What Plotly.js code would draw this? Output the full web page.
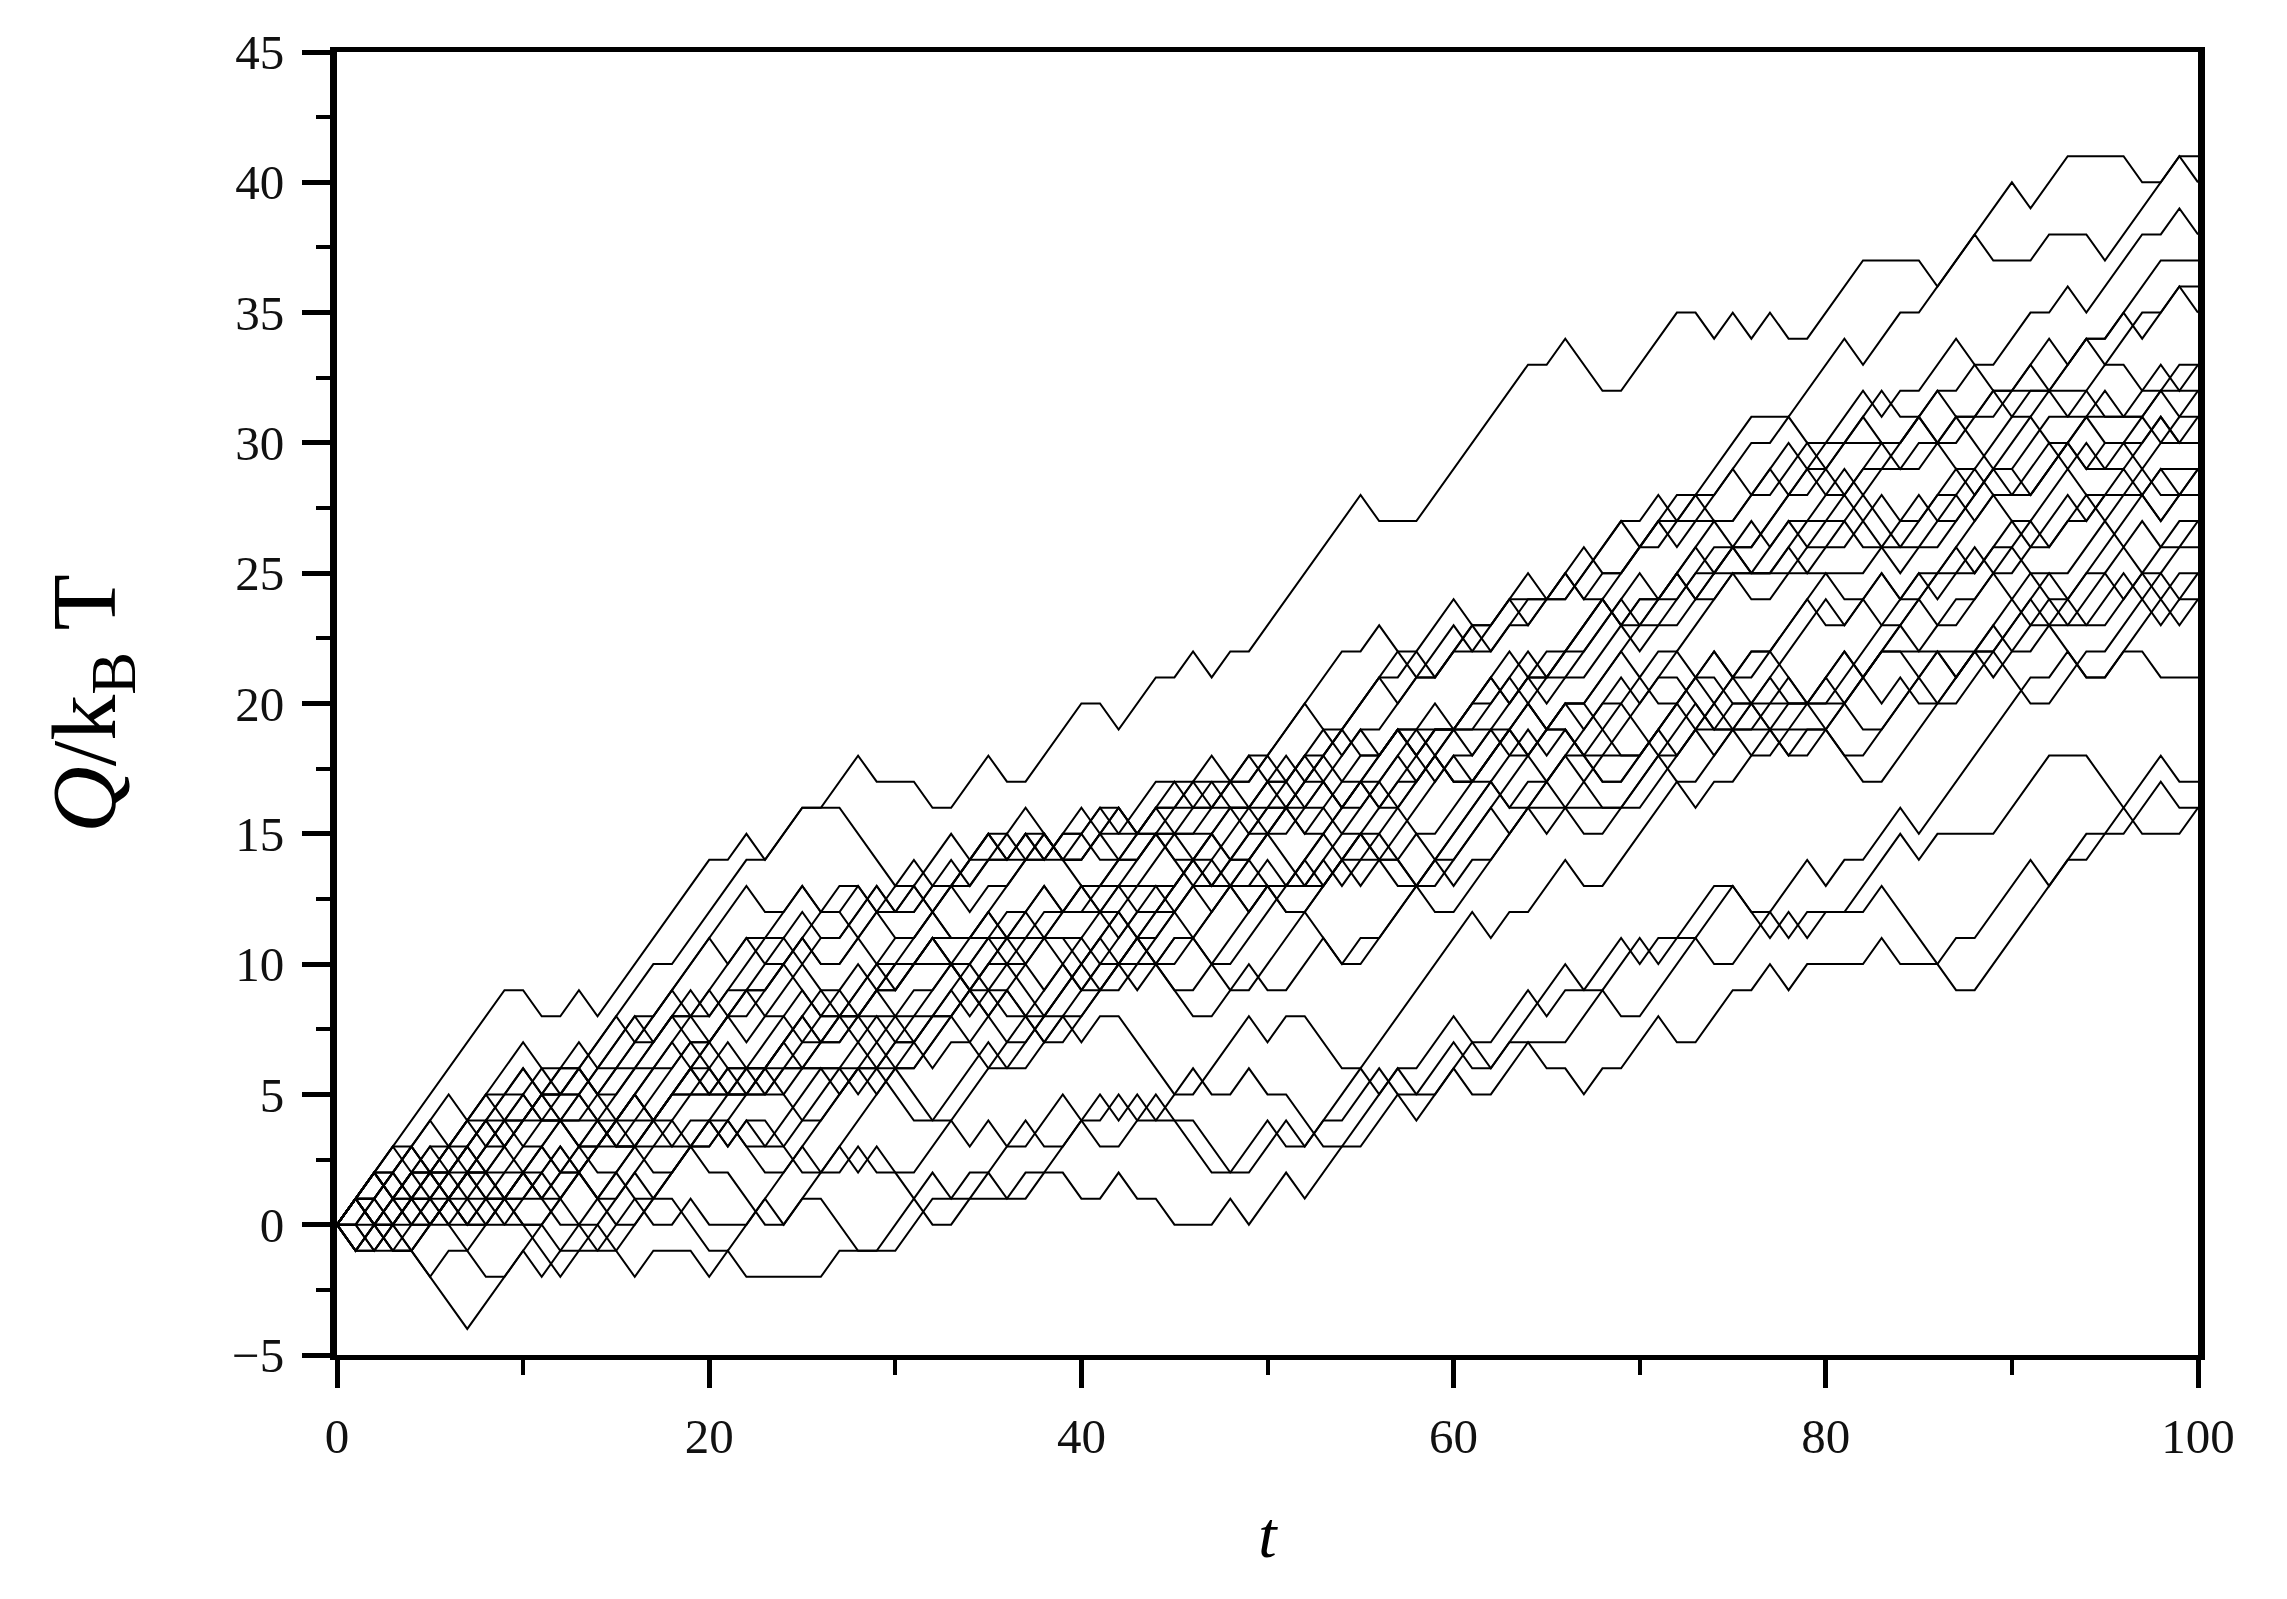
<!DOCTYPE html>
<html><head><meta charset="utf-8">
<script src="https://cdn.plot.ly/plotly-3.0.1.min.js"></script>
<style>html,body{margin:0;padding:0;background:#fff}#chart{width:2287px;height:1599px}</style>
</head><body><div id="chart"></div>
<script>
// Heat trajectories Q/kBT vs t, vertices [t, Q] (piecewise-linear lattice walks)
const walk01 = [[0,0],[3,3],[4,2],[5,3],[6,3],[8,5],[9,4],[10,4],[12,6],[13,6],[17,10],[18,10],[22,14],[23,14],[25,16],[26,16],[28,18],[29,17],[31,17],[32,16],[33,16],[35,18],[36,17],[37,17],[40,20],[41,20],[42,19],[44,21],[45,21],[46,22],[47,21],[48,22],[49,22],[55,28],[56,27],[58,27],[64,33],[65,33],[66,34],[68,32],[69,32],[72,35],[73,35],[74,34],[75,35],[76,34],[77,35],[78,34],[79,34],[82,37],[85,37],[86,36],[90,40],[91,39],[93,41],[96,41],[97,40],[98,40],[99,41],[100,40]];
const walk02 = [[0,0],[1,1],[2,0],[4,2],[5,2],[7,4],[8,3],[9,3],[11,5],[12,4],[14,4],[16,6],[17,6],[19,8],[20,7],[22,9],[23,9],[25,11],[26,10],[27,10],[29,12],[30,12],[31,13],[33,11],[34,11],[37,14],[38,14],[40,16],[41,15],[42,15],[44,17],[46,17],[47,18],[48,17],[49,18],[50,18],[54,22],[55,22],[56,23],[57,22],[58,22],[60,24],[61,23],[62,23],[63,24],[65,24],[66,25],[67,24],[68,24],[72,28],[73,28],[74,29],[76,31],[78,31],[81,34],[82,33],[84,35],[85,35],[88,38],[89,37],[91,37],[92,38],[94,38],[95,37],[96,38],[99,41],[100,41]];
const walk03 = [[0,0],[1,-1],[2,0],[3,0],[6,3],[7,2],[8,2],[11,5],[12,5],[13,6],[14,5],[15,6],[16,6],[19,9],[20,8],[21,9],[22,9],[24,11],[25,10],[26,11],[27,11],[29,13],[30,12],[31,12],[33,14],[34,13],[35,14],[36,14],[37,15],[38,14],[39,15],[40,15],[41,16],[42,16],[43,15],[44,15],[46,17],[47,16],[48,17],[49,17],[52,20],[53,19],[54,19],[56,21],[57,21],[58,22],[59,21],[60,22],[61,22],[64,25],[65,24],[66,24],[69,27],[70,27],[71,28],[72,27],[73,27],[76,30],[77,30],[78,31],[79,30],[80,30],[82,32],[83,31],[84,32],[85,32],[87,34],[88,33],[89,33],[91,35],[92,35],[93,36],[94,35],[95,36],[97,38],[98,38],[99,39],[100,38]];
const walk04 = [[0,0],[2,2],[3,2],[4,1],[5,1],[8,4],[9,4],[10,5],[11,4],[12,4],[16,8],[17,7],[18,8],[19,8],[22,11],[23,10],[24,10],[26,12],[27,12],[28,13],[29,12],[30,13],[31,13],[33,15],[34,14],[36,14],[37,15],[38,14],[40,14],[42,16],[43,15],[44,16],[45,16],[46,17],[47,17],[48,16],[49,16],[50,17],[51,17],[53,19],[54,18],[55,19],[56,19],[60,23],[61,22],[62,22],[64,24],[65,24],[66,25],[67,24],[68,25],[69,25],[71,27],[72,26],[73,27],[75,27],[78,30],[79,29],[80,30],[81,30],[83,32],[84,31],[85,31],[86,32],[87,31],[89,31],[91,33],[92,32],[93,33],[94,34],[95,34],[96,35],[98,37],[100,37]];
const walk05 = [[0,0],[1,0],[4,3],[5,2],[6,2],[9,5],[10,5],[11,6],[12,5],[13,5],[16,8],[17,8],[18,9],[19,8],[20,8],[23,11],[24,11],[25,12],[26,11],[27,11],[29,13],[30,12],[31,12],[32,13],[33,13],[35,15],[36,14],[37,14],[38,15],[39,14],[40,14],[41,15],[42,14],[43,14],[44,15],[46,15],[48,17],[49,17],[50,18],[51,17],[52,18],[53,18],[57,22],[58,21],[59,21],[61,23],[62,23],[63,24],[64,23],[65,24],[66,24],[69,27],[70,26],[71,26],[73,28],[74,28],[75,29],[76,28],[77,28],[79,30],[80,29],[81,30],[84,30],[85,31],[86,30],[87,30],[89,32],[90,31],[91,32],[92,32],[94,34],[95,33],[96,34],[97,35],[98,35],[99,36],[100,36]];
const walk06 = [[0,0],[2,2],[3,1],[4,2],[6,2],[8,4],[9,3],[11,5],[12,5],[13,6],[14,5],[15,5],[18,8],[19,8],[20,9],[21,8],[22,8],[25,11],[26,10],[27,10],[29,12],[30,12],[31,13],[32,12],[33,13],[34,13],[36,15],[37,14],[38,14],[39,15],[40,15],[41,16],[42,15],[47,15],[48,16],[49,15],[50,16],[51,16],[56,21],[57,20],[58,21],[59,21],[61,23],[62,22],[63,23],[64,23],[67,26],[68,25],[69,25],[71,27],[72,27],[73,28],[74,27],[75,27],[77,29],[78,28],[79,29],[80,29],[82,31],[83,30],[84,30],[86,32],[87,32],[88,33],[89,32],[90,32],[92,34],[93,33],[94,34],[95,34],[96,35],[97,34],[98,35],[99,36],[100,35]];
const walk07 = [[0,0],[1,-1],[3,1],[4,1],[5,0],[6,1],[9,4],[10,4],[11,5],[12,4],[13,4],[16,7],[17,7],[18,8],[19,7],[20,7],[22,9],[23,9],[24,10],[26,8],[27,8],[30,11],[31,11],[32,12],[33,11],[34,11],[35,12],[36,11],[37,12],[38,13],[39,12],[40,12],[42,14],[43,14],[44,15],[46,13],[47,13],[51,17],[52,16],[53,16],[55,18],[56,18],[57,19],[58,18],[59,19],[60,19],[63,22],[64,21],[65,22],[66,22],[68,24],[69,23],[70,24],[71,24],[74,27],[75,26],[76,26],[78,28],[79,28],[80,29],[81,28],[82,29],[83,29],[85,31],[86,30],[87,31],[88,31],[89,32],[94,32],[95,31],[96,31],[98,33],[99,32],[100,33]];
const walk08 = [[0,0],[2,0],[4,2],[5,1],[6,1],[9,4],[10,3],[11,3],[12,4],[13,3],[14,3],[17,6],[18,6],[19,7],[21,5],[22,5],[25,8],[26,7],[27,7],[30,10],[31,10],[32,11],[33,10],[34,10],[36,12],[37,12],[38,11],[39,12],[41,12],[44,15],[45,14],[46,14],[48,16],[49,16],[50,17],[52,15],[53,15],[57,19],[58,18],[59,19],[60,19],[62,21],[63,20],[64,21],[65,21],[68,24],[69,23],[70,24],[71,24],[73,26],[74,25],[75,26],[76,26],[79,29],[80,28],[81,28],[83,30],[84,29],[85,30],[86,30],[87,31],[89,29],[90,29],[92,31],[93,31],[95,33],[96,33],[97,32],[98,32],[99,33],[100,33]];
const walk09 = [[0,0],[1,0],[2,-1],[3,0],[4,0],[7,3],[8,2],[9,2],[11,4],[12,4],[13,5],[15,3],[16,3],[19,6],[20,6],[21,7],[22,6],[23,6],[26,9],[27,8],[28,8],[30,10],[31,10],[32,11],[34,9],[35,9],[38,12],[39,12],[40,13],[41,12],[42,12],[45,15],[46,14],[47,14],[50,17],[51,17],[52,18],[54,16],[55,16],[59,20],[60,19],[61,20],[62,20],[64,22],[65,21],[66,22],[67,22],[70,25],[71,24],[72,24],[74,26],[75,26],[76,27],[77,26],[78,27],[79,27],[81,29],[82,28],[83,29],[85,29],[86,30],[87,29],[88,29],[90,31],[91,31],[92,32],[93,31],[94,31],[95,32],[96,31],[97,31],[98,32],[100,32]];
const walk10 = [[0,0],[1,1],[2,0],[3,1],[5,1],[6,0],[7,1],[11,1],[14,4],[15,3],[16,4],[17,4],[22,9],[23,8],[24,8],[25,9],[26,8],[33,8],[38,13],[39,12],[40,13],[45,13],[47,15],[48,14],[49,14],[54,19],[55,18],[56,18],[57,19],[63,19],[64,20],[65,19],[66,20],[67,20],[72,25],[73,24],[74,24],[75,25],[82,25],[83,26],[84,25],[85,26],[86,26],[91,31],[92,30],[93,30],[94,31],[97,31],[98,32],[99,31],[100,32]];
const walk11 = [[0,0],[1,-1],[2,-1],[5,2],[6,1],[7,2],[8,2],[10,0],[11,0],[16,5],[17,4],[18,5],[22,5],[25,8],[26,7],[27,8],[28,8],[30,6],[31,6],[36,11],[37,10],[38,11],[39,11],[41,9],[42,9],[47,14],[48,13],[49,13],[50,14],[51,13],[52,13],[57,18],[58,17],[59,18],[60,19],[61,19],[63,21],[64,20],[65,21],[66,21],[69,24],[70,23],[71,23],[73,25],[74,25],[75,26],[76,25],[77,25],[79,27],[80,27],[81,28],[83,26],[84,26],[86,28],[87,28],[88,29],[89,28],[90,28],[92,30],[93,29],[94,30],[95,29],[96,29],[98,31],[99,30],[100,31]];
const walk12 = [[0,0],[3,3],[4,3],[5,2],[6,3],[7,3],[9,1],[10,1],[12,3],[13,2],[14,3],[20,3],[24,7],[25,6],[26,7],[27,7],[29,9],[30,8],[31,9],[32,9],[35,12],[36,11],[40,11],[41,12],[42,11],[43,12],[44,12],[47,15],[48,14],[49,15],[50,15],[52,13],[53,13],[58,18],[59,17],[60,18],[61,18],[64,21],[65,20],[66,21],[67,21],[69,23],[70,22],[71,23],[72,23],[75,26],[76,25],[77,25],[78,26],[79,25],[80,26],[81,26],[83,28],[84,27],[85,27],[87,29],[88,28],[89,29],[90,29],[91,28],[92,29],[94,31],[95,30],[96,30],[97,31],[98,30],[99,31],[100,31]];
const walk13 = [[0,0],[1,1],[3,-1],[4,-1],[6,1],[7,0],[8,1],[9,1],[12,4],[13,3],[14,4],[15,4],[17,2],[18,2],[22,6],[23,5],[24,6],[29,6],[33,10],[34,9],[35,10],[36,10],[38,8],[39,8],[44,13],[45,12],[46,13],[48,13],[49,12],[50,13],[51,13],[55,17],[56,16],[57,17],[58,17],[59,18],[60,17],[61,17],[64,20],[65,19],[66,20],[67,20],[69,22],[70,21],[71,22],[72,22],[75,25],[76,24],[77,24],[79,26],[80,26],[81,27],[82,26],[83,26],[85,28],[86,27],[87,27],[89,29],[90,28],[91,28],[93,30],[94,29],[95,30],[97,30],[98,31],[99,30],[100,30]];
const walk14 = [[0,0],[2,2],[3,1],[5,3],[6,2],[7,2],[10,5],[11,4],[12,5],[13,5],[15,3],[16,3],[19,6],[20,5],[21,6],[27,6],[28,7],[29,6],[30,7],[31,7],[35,11],[36,10],[37,10],[40,13],[41,12],[42,13],[43,12],[44,12],[46,14],[47,13],[48,13],[53,18],[54,17],[55,17],[57,19],[58,18],[59,19],[60,19],[62,21],[63,20],[64,21],[65,21],[68,24],[69,23],[70,23],[72,25],[73,24],[74,25],[76,25],[78,27],[79,26],[80,27],[81,27],[82,28],[84,26],[85,26],[87,28],[88,27],[89,28],[91,28],[93,30],[94,29],[95,29],[96,30],[97,29],[98,30],[100,30]];
const walk15 = [[0,0],[1,0],[3,2],[4,1],[5,2],[6,2],[8,0],[9,0],[11,2],[12,1],[13,2],[18,7],[19,6],[20,7],[21,6],[22,6],[24,8],[25,7],[26,7],[29,10],[30,9],[31,10],[33,10],[36,7],[37,7],[42,12],[43,11],[44,12],[45,12],[47,10],[48,10],[52,14],[53,13],[54,14],[55,14],[59,18],[60,17],[61,17],[63,19],[64,18],[65,19],[66,19],[68,17],[69,17],[74,22],[75,21],[76,22],[77,22],[80,25],[81,24],[82,24],[83,25],[84,24],[85,24],[89,28],[90,27],[91,27],[93,29],[94,28],[96,28],[97,29],[98,28],[99,28],[100,29]];
const walk16 = [[0,0],[1,-1],[2,0],[3,-1],[4,-1],[7,2],[8,1],[9,2],[10,2],[12,0],[13,0],[17,4],[18,3],[19,4],[21,4],[23,2],[24,2],[28,6],[29,5],[30,6],[31,6],[34,9],[35,8],[36,9],[37,8],[38,8],[42,12],[43,11],[44,11],[46,13],[47,12],[48,13],[52,13],[53,14],[54,13],[55,14],[56,14],[60,18],[61,17],[62,17],[64,19],[65,18],[66,19],[67,18],[68,18],[72,22],[73,21],[74,21],[75,20],[81,20],[85,24],[86,23],[87,24],[88,24],[91,27],[92,26],[93,27],[94,27],[96,29],[97,28],[98,29],[100,29]];
const walk17 = [[0,0],[2,2],[4,0],[5,0],[6,1],[7,0],[8,0],[11,3],[12,2],[13,3],[14,3],[16,5],[17,4],[18,4],[20,6],[21,5],[22,6],[23,6],[25,4],[26,4],[30,8],[31,7],[32,8],[33,8],[35,6],[36,6],[41,11],[42,10],[43,11],[44,10],[45,10],[49,14],[50,13],[51,13],[53,15],[54,14],[55,15],[56,15],[58,13],[59,13],[64,18],[65,17],[66,18],[67,18],[70,21],[71,20],[72,20],[74,22],[75,21],[76,22],[77,22],[79,20],[80,20],[85,25],[86,24],[87,25],[88,25],[90,27],[91,26],[92,26],[94,28],[95,27],[96,28],[97,28],[98,27],[99,28],[100,28]];
const walk18 = [[0,0],[1,1],[2,1],[3,0],[4,1],[5,1],[8,4],[9,3],[10,4],[12,4],[14,2],[15,2],[19,6],[20,5],[21,6],[22,5],[23,5],[27,9],[28,8],[29,9],[30,9],[32,11],[38,11],[39,10],[40,11],[41,10],[42,10],[46,14],[47,13],[48,14],[49,14],[51,16],[52,15],[53,16],[54,15],[55,15],[57,13],[58,13],[62,17],[63,16],[64,17],[65,17],[69,21],[70,20],[71,21],[72,21],[74,19],[75,19],[80,24],[81,23],[82,24],[83,23],[84,23],[87,26],[88,25],[89,26],[90,26],[92,24],[93,24],[97,28],[98,27],[99,28],[100,28]];
const walk19 = [[0,0],[1,-1],[3,1],[4,0],[5,0],[7,2],[8,1],[9,1],[10,2],[11,1],[12,1],[14,-1],[15,-1],[20,4],[21,3],[22,4],[23,4],[25,2],[26,2],[31,7],[32,6],[33,7],[34,7],[37,10],[38,9],[39,10],[40,9],[41,9],[43,11],[44,10],[45,11],[46,11],[48,9],[49,9],[54,14],[55,13],[56,14],[57,14],[59,12],[60,12],[65,17],[66,16],[67,17],[68,16],[69,16],[73,20],[74,19],[75,20],[76,20],[78,18],[79,18],[84,23],[85,22],[86,23],[87,23],[89,25],[90,24],[91,25],[93,25],[95,27],[96,26],[97,27],[98,26],[99,26],[100,27]];
const walk20 = [[0,0],[2,2],[3,2],[4,3],[6,1],[7,1],[9,3],[10,2],[11,3],[12,2],[13,2],[16,5],[17,4],[18,5],[24,5],[27,8],[28,7],[29,8],[30,7],[31,7],[33,9],[34,8],[35,9],[36,9],[38,7],[39,7],[43,11],[44,10],[45,11],[46,11],[48,13],[49,12],[50,13],[51,12],[52,12],[55,15],[56,14],[57,14],[58,15],[59,14],[60,14],[62,16],[63,15],[64,16],[70,16],[73,19],[74,18],[75,19],[76,18],[77,18],[81,22],[82,21],[83,22],[84,22],[86,20],[87,20],[92,25],[93,24],[94,25],[95,25],[96,26],[97,25],[98,26],[99,27],[100,27]];
const walk21 = [[0,0],[1,1],[2,0],[3,0],[5,-2],[6,-1],[7,-1],[10,2],[11,1],[12,2],[13,2],[15,0],[16,0],[20,4],[21,3],[22,4],[23,3],[24,3],[27,6],[28,5],[29,6],[30,6],[32,4],[33,4],[37,8],[38,7],[39,8],[40,8],[42,10],[43,9],[44,10],[45,9],[46,9],[50,13],[51,12],[52,12],[54,10],[55,10],[59,14],[60,13],[61,14],[62,14],[64,16],[65,15],[66,16],[67,15],[68,15],[71,18],[72,17],[73,17],[76,20],[77,19],[78,20],[79,20],[81,18],[82,18],[86,22],[87,21],[88,22],[89,22],[91,24],[92,23],[93,23],[95,25],[96,24],[97,25],[98,25],[99,26],[100,26]];
const walk22 = [[0,0],[1,1],[3,-1],[4,-1],[6,1],[7,0],[8,0],[10,2],[11,2],[12,3],[14,1],[15,1],[18,4],[19,3],[20,3],[21,4],[22,3],[23,3],[26,6],[27,5],[28,6],[29,6],[31,4],[32,4],[35,7],[36,6],[37,6],[39,8],[40,7],[41,8],[42,8],[45,5],[46,5],[49,8],[50,7],[51,8],[52,8],[54,6],[55,6],[61,12],[62,11],[63,12],[64,12],[66,14],[67,13],[68,13],[72,17],[73,16],[74,17],[75,17],[77,19],[78,18],[79,19],[80,19],[82,17],[83,17],[88,22],[89,21],[90,22],[91,22],[93,24],[94,23],[95,23],[97,25],[98,24],[99,25],[100,25]];
const walk23 = [[0,0],[2,2],[3,1],[4,2],[5,2],[10,7],[11,6],[12,6],[13,7],[14,6],[15,6],[20,11],[21,10],[22,11],[23,11],[25,13],[26,12],[27,13],[28,13],[30,11],[31,11],[35,15],[36,14],[37,15],[38,15],[40,13],[41,13],[44,16],[45,15],[46,16],[52,16],[53,17],[54,16],[55,17],[56,16],[57,16],[60,19],[61,18],[62,19],[63,18],[64,18],[66,20],[67,19],[68,20],[69,20],[71,18],[72,18],[75,21],[76,20],[77,21],[78,20],[79,20],[81,22],[82,21],[83,22],[88,22],[90,24],[91,23],[92,24],[93,23],[94,23],[96,25],[97,24],[98,25],[99,24],[100,25]];
const walk24 = [[0,0],[1,1],[2,1],[6,5],[7,4],[8,5],[9,5],[10,6],[11,5],[12,5],[15,8],[16,7],[17,8],[22,13],[23,12],[24,12],[25,13],[26,12],[27,12],[29,10],[30,10],[33,13],[34,12],[35,13],[36,13],[38,15],[39,14],[40,15],[41,14],[42,14],[45,17],[46,16],[47,17],[48,17],[50,15],[51,15],[53,17],[54,16],[55,17],[56,17],[58,15],[59,15],[63,19],[64,18],[65,19],[66,19],[68,17],[69,17],[71,19],[72,18],[73,19],[80,19],[82,21],[83,20],[84,21],[85,20],[86,20],[89,23],[90,22],[91,23],[92,23],[94,21],[95,21],[98,24],[99,23],[100,24]];
const walk25 = [[0,0],[9,9],[10,9],[11,8],[12,8],[13,9],[14,8],[15,9],[20,14],[21,14],[22,15],[23,14],[24,15],[25,16],[27,16],[30,13],[31,14],[32,13],[33,13],[35,15],[36,15],[37,16],[39,14],[40,14],[42,16],[43,15],[44,16],[47,16],[49,18],[50,17],[51,18],[52,17],[53,17],[55,19],[56,18],[57,19],[58,19],[60,17],[61,17],[64,20],[65,19],[66,20],[67,20],[69,18],[70,18],[72,20],[73,19],[74,20],[75,19],[76,19],[78,21],[79,20],[80,21],[82,19],[83,19],[86,22],[87,21],[88,22],[89,22],[91,20],[92,20],[94,22],[95,22],[97,24],[98,23],[99,24],[100,24]];
const walk26 = [[0,0],[1,0],[2,-1],[3,-1],[5,1],[6,0],[7,0],[8,1],[9,0],[10,0],[12,-2],[13,-1],[14,-1],[16,1],[17,0],[18,0],[19,1],[20,0],[22,0],[25,3],[26,2],[27,2],[28,3],[29,2],[30,2],[32,0],[33,0],[35,2],[36,1],[37,2],[38,2],[40,4],[41,3],[42,3],[44,5],[45,4],[46,4],[48,2],[49,2],[51,4],[52,3],[53,4],[54,4],[56,6],[57,5],[58,5],[60,7],[61,6],[62,6],[66,10],[67,9],[68,9],[70,11],[71,10],[72,11],[73,11],[75,13],[76,12],[77,12],[79,14],[80,13],[81,14],[82,14],[84,16],[85,15],[86,16],[91,21],[92,21],[93,22],[94,21],[95,21],[96,22],[97,22],[98,21],[100,21]];
const walk27 = [[0,0],[1,1],[2,0],[3,0],[5,2],[6,1],[7,2],[8,2],[10,0],[11,0],[13,2],[14,1],[15,2],[16,1],[17,1],[19,3],[20,2],[21,2],[23,0],[24,0],[27,3],[28,2],[29,3],[30,2],[31,2],[33,4],[34,3],[35,4],[36,3],[37,3],[39,5],[40,4],[41,4],[42,5],[43,4],[44,4],[46,6],[47,5],[48,5],[49,6],[50,5],[51,5],[53,3],[54,3],[57,6],[58,5],[59,5],[61,7],[62,6],[63,7],[66,7],[68,9],[69,8],[70,8],[73,11],[74,10],[75,10],[77,12],[78,11],[79,12],[81,12],[84,15],[85,14],[86,15],[89,15],[92,18],[94,18],[96,16],[98,18],[99,17],[100,17]];
const walk28 = [[0,0],[1,-1],[2,-1],[4,1],[5,0],[6,0],[8,-2],[9,-2],[11,0],[12,-1],[13,0],[14,0],[16,2],[17,1],[18,1],[20,-1],[21,-1],[23,1],[24,0],[25,1],[26,1],[28,-1],[29,-1],[32,2],[33,1],[34,2],[35,2],[37,4],[38,3],[39,3],[41,5],[42,4],[43,5],[44,4],[45,4],[47,2],[48,2],[50,4],[51,3],[52,3],[55,6],[56,5],[57,6],[58,6],[60,8],[61,7],[62,7],[64,9],[65,8],[66,9],[67,9],[69,11],[70,10],[71,11],[72,11],[74,13],[75,13],[77,11],[78,12],[79,11],[80,12],[82,12],[83,13],[86,10],[87,9],[88,9],[92,13],[93,14],[94,14],[96,16],[97,15],[99,15],[100,16]];
const walk29 = [[0,0],[1,1],[2,1],[3,0],[7,-4],[10,-1],[11,-2],[12,-1],[13,-1],[14,0],[16,-2],[17,-1],[19,-1],[20,-2],[21,-1],[22,-2],[26,-2],[27,-1],[30,-1],[32,1],[37,1],[38,2],[39,2],[40,1],[41,1],[42,2],[43,1],[44,1],[45,0],[47,0],[48,1],[49,0],[51,2],[52,1],[54,3],[55,3],[57,5],[58,4],[60,6],[61,5],[62,5],[64,7],[65,6],[66,6],[67,5],[68,6],[69,6],[71,8],[72,7],[73,7],[75,9],[76,9],[77,10],[78,9],[79,10],[80,10],[82,10],[83,11],[84,10],[86,10],[87,11],[88,11],[91,14],[92,13],[94,15],[96,15],[98,17],[99,16],[100,16]];
const walk30 = [[0,0],[1,1],[2,1],[5,4],[6,3],[7,4],[8,4],[10,6],[11,5],[12,6],[13,6],[15,4],[16,4],[19,7],[20,7],[21,8],[22,7],[23,8],[25,10],[26,9],[27,9],[28,10],[29,9],[30,9],[32,11],[33,10],[34,10],[36,8],[37,8],[39,10],[40,9],[41,10],[44,10],[46,8],[47,8],[49,10],[50,9],[51,9],[53,11],[54,10],[55,11],[56,11],[62,17],[63,16],[64,16],[66,18],[67,17],[68,18],[70,18],[73,21],[74,20],[75,21],[76,21],[79,24],[80,23],[81,23],[83,25],[84,24],[85,25],[87,25],[88,26],[89,25],[90,25],[93,28],[94,27],[95,28],[97,28],[98,29],[99,28],[100,29]];

const xTickVals = [0, 20, 40, 60, 80, 100];
const xMinorVals = [10, 30, 50, 70, 90];
const yTickVals = [-5, 0, 5, 10, 15, 20, 25, 30, 35, 40, 45];

const walks = [walk01, walk02, walk03, walk04, walk05, walk06, walk07, walk08, walk09, walk10,
  walk11, walk12, walk13, walk14, walk15, walk16, walk17, walk18, walk19, walk20,
  walk21, walk22, walk23, walk24, walk25, walk26, walk27, walk28, walk29, walk30];

const traces = walks.map(function (w) {
  return {
    x: w.map(function (p) { return p[0]; }),
    y: w.map(function (p) { return p[1]; }),
    type: 'scatter', mode: 'lines',
    line: { color: '#000000', width: 2 },
    showlegend: false, hoverinfo: 'skip'
  };
});

const serif = '"Liberation Serif", "Times New Roman", Times, serif';

const layout = {
  width: 2287, height: 1599,
  margin: { l: 337, r: 89, t: 52, b: 244, pad: 0 },
  paper_bgcolor: '#ffffff', plot_bgcolor: '#ffffff',
  showlegend: false,
  xaxis: {
    range: [0, 100], tickvals: xTickVals, ticks: 'outside', ticklen: 28, tickwidth: 5, tickcolor: '#000',
    minor: { tickvals: xMinorVals, ticks: 'outside', ticklen: 15, tickwidth: 4, tickcolor: '#000' },
    showline: true, linewidth: 5, linecolor: '#000', mirror: true,
    showgrid: false, zeroline: false, automargin: false,
    tickfont: { family: serif, size: 49, color: '#111' },
    ticklabelstandoff: 6,
    title: { text: '<i>t</i>', font: { family: serif, size: 66, color: '#000' }, standoff: 50 }
  },
  yaxis: {
    range: [-5, 45], tickvals: yTickVals, ticks: 'outside', ticklen: 28, tickwidth: 5, tickcolor: '#000',
    minor: { dtick: 2.5, tick0: 0, ticks: 'outside', ticklen: 14, tickwidth: 4, tickcolor: '#000' },
    showline: true, linewidth: 7, linecolor: '#000', mirror: true,
    showgrid: false, zeroline: false, automargin: false,
    tickfont: { family: serif, size: 49, color: '#111' },
    ticklabelstandoff: 8,
    title: { text: '<i>Q</i>/k<sub>B</sub> T', font: { family: serif, size: 92, color: '#000' }, standoff: 88 }
  }
};

Plotly.newPlot('chart', traces, layout, { staticPlot: true, displayModeBar: false });
</script>
</body></html>
